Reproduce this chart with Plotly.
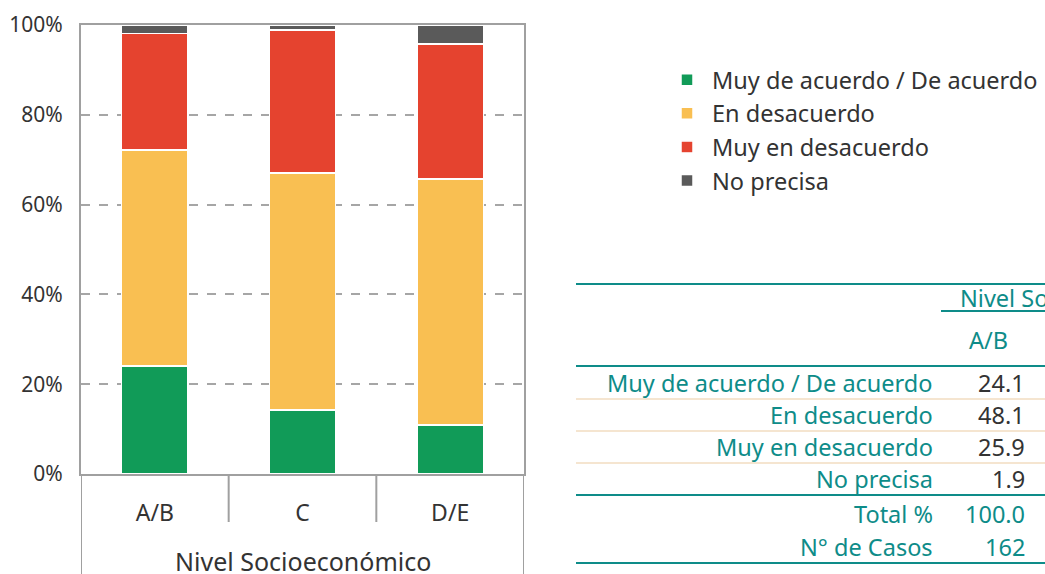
import plotly.graph_objects as go

categories = ["A/B", "C", "D/E"]
series_names = ["Muy de acuerdo / De acuerdo", "En desacuerdo", "Muy en desacuerdo", "No precisa"]
acuerdo = [24.1, 14.3, 10.9]
desacuerdo = [48.1, 52.7, 54.8]
muy_desacuerdo = [25.9, 31.9, 30.1]
no_precisa = [1.9, 1.1, 4.2]
n_casos = [162, 0, 0]
y_ticks = [0, 20, 40, 60, 80, 100]
y_tick_labels = ["0%", "20%", "40%", "60%", "80%", "100%"]
axis_title = "Nivel Socioeconómico"

colors = ["#119B58", "#F9BF52", "#E5432F", "#5A5A5A"]
teal = "#0E8C89"
beige = "#F2DCC0"
dark = "#333333"
FONT = "Noto Sans"
TS = 23.5

W, H = 1045, 574
L, R, T, B = 81, 524, 25, 474


def px(x):
    return (x - L) / (R - L)


def py(y):
    return (B - y) / (B - T)


fig = go.Figure()
values = [acuerdo, desacuerdo, muy_desacuerdo, no_precisa]
for i, (name, vals) in enumerate(zip(series_names, values)):
    fig.add_trace(go.Bar(
        x=categories, y=vals, name=name, width=0.45,
        marker=dict(color=colors[i], line=dict(color="white", width=1.5)),
        legendgroup=f"g{i}", hoverinfo="y+name",
    ))

shapes = []
annotations = []

# category separators below the axis
for xv, bottom in [(-0.5, H), (0.5, 522), (1.5, 522), (2.5, H)]:
    shapes.append(dict(type="line", xref="x", yref="paper", x0=xv, x1=xv,
                       y0=0, y1=py(bottom), line=dict(color="#A0A0A0", width=2)))


def hline(y, x0, x1, color, width):
    shapes.append(dict(type="line", xref="paper", yref="paper", x0=px(x0), x1=px(x1),
                       y0=py(y), y1=py(y), line=dict(color=color, width=width)))

hline(284, 576, W + 5, teal, 2)
hline(311, 941, W + 5, teal, 2)
hline(366, 576, W + 5, teal, 2)
for yy in (399, 431, 463):
    hline(yy, 576, W + 5, beige, 1.5)
hline(495, 576, W + 5, teal, 2)
hline(563, 576, W + 5, teal, 2)


def text(x, y, s, color, anchor="right", size=TS):
    annotations.append(dict(x=px(x), y=py(y), xref="paper", yref="paper", text=s,
                            showarrow=False, xanchor=anchor, yanchor="middle",
                            font=dict(family=FONT, size=size, color=color)))

text(958, 298, axis_title, teal, anchor="left")
text(988, 340, categories[0], teal, anchor="center")
row_y = [383, 415, 447, 479]
for name, vals, yy in zip(series_names, values, row_y):
    text(935, yy, name, teal)
    text(1027, yy, f"{vals[0]:.1f}", dark)
total0 = sum(v[0] for v in values)
text(935, 514, "Total %", teal)
text(1027, 514, f"{total0:.1f}", teal)
text(935, 547, "N° de Casos", teal)
text(1027, 547, str(n_casos[0]), teal)

# axis title under the category labels
text((L + R) / 2, 561, axis_title, dark, anchor="center", size=25)

fig.update_layout(
    width=W, height=H,
    margin=dict(l=L, r=W - R, t=T, b=H - B, autoexpand=False),
    barmode="stack",
    plot_bgcolor="white", paper_bgcolor="white",
    font=dict(family=FONT, color=dark),
    shapes=shapes, annotations=annotations,
    legend=dict(x=px(662), y=py(58), xanchor="left", yanchor="top",
                traceorder="grouped", tracegroupgap=0,
                font=dict(family=FONT, size=TS, color=dark), itemwidth=40),
    xaxis=dict(range=[-0.5, 2.5], showline=True, mirror=True, linecolor="#A0A0A0", linewidth=2,
               ticks="", tickfont=dict(size=23, color=dark), ticklabelstandoff=17,
               fixedrange=True),
    yaxis=dict(range=[0, 100], tickmode="array", tickvals=y_ticks, ticktext=y_tick_labels,
               showline=True, mirror=True, linecolor="#A0A0A0", linewidth=2,
               showgrid=True, gridcolor="#A6A6A6", gridwidth=1.5, griddash="dash",
               zeroline=False, tickfont=dict(size=21, color=dark), ticklabelstandoff=12,
               fixedrange=True),
)

fig.write_html("out.html", config={"displayModeBar": False},
               post_script="document.body.style.margin='0';document.body.style.overflow='hidden';")
